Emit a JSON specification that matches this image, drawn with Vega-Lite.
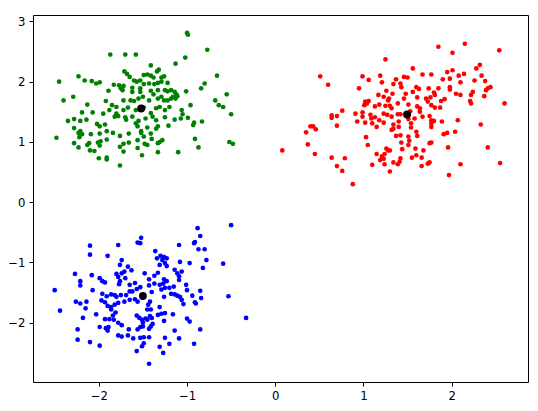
{
  "$schema": "https://vega.github.io/schema/vega-lite/v6.json",
  "width": 495,
  "height": 367,
  "autosize": {"type": "none"},
  "padding": {"left": 33, "top": 15, "right": 10, "bottom": 29},
  "background": "white",
  "config": {
    "view": {"stroke": "#000000", "strokeWidth": 1},
    "font": "DejaVu Sans",
    "axis": {
      "grid": false,
      "domain": false,
      "tickColor": "#000000",
      "tickSize": 4,
      "tickWidth": 1,
      "labelColor": "#000000",
      "labelFont": "DejaVu Sans",
      "labelFontSize": 11.7,
      "labelPadding": 4,
      "title": null
    }
  },
  "data": {
    "values": [
      {"x": -1.00, "y": 2.81, "c": "g"}, {"x": -0.99, "y": 2.78, "c": "g"}, {"x": -0.77, "y": 2.53, "c": "g"}, {"x": -1.87, "y": 2.45, "c": "g"},
      {"x": -1.70, "y": 2.45, "c": "g"}, {"x": -1.58, "y": 2.45, "c": "g"}, {"x": -1.02, "y": 2.40, "c": "g"}, {"x": -1.13, "y": 2.30, "c": "g"},
      {"x": -1.41, "y": 2.27, "c": "g"}, {"x": -1.71, "y": 2.17, "c": "g"}, {"x": -1.32, "y": 2.20, "c": "g"}, {"x": -1.34, "y": 2.17, "c": "g"},
      {"x": -2.45, "y": 2.00, "c": "g"}, {"x": -2.23, "y": 2.09, "c": "g"}, {"x": -2.16, "y": 2.02, "c": "g"}, {"x": -2.08, "y": 2.01, "c": "g"},
      {"x": -2.03, "y": 1.97, "c": "g"}, {"x": -1.99, "y": 1.99, "c": "g"}, {"x": -0.80, "y": 1.97, "c": "g"}, {"x": -0.66, "y": 2.10, "c": "g"},
      {"x": -1.68, "y": 2.13, "c": "g"}, {"x": -1.65, "y": 2.08, "c": "g"}, {"x": -1.60, "y": 2.02, "c": "g"}, {"x": -1.53, "y": 2.02, "c": "g"},
      {"x": -1.49, "y": 2.11, "c": "g"}, {"x": -1.45, "y": 2.12, "c": "g"}, {"x": -1.41, "y": 2.10, "c": "g"}, {"x": -1.38, "y": 2.07, "c": "g"},
      {"x": -1.29, "y": 2.07, "c": "g"}, {"x": -1.26, "y": 2.09, "c": "g"}, {"x": -1.83, "y": 1.95, "c": "g"}, {"x": -1.77, "y": 1.94, "c": "g"},
      {"x": -1.72, "y": 1.93, "c": "g"}, {"x": -1.73, "y": 1.86, "c": "g"}, {"x": -1.75, "y": 1.89, "c": "g"}, {"x": -1.62, "y": 1.90, "c": "g"},
      {"x": -1.57, "y": 2.00, "c": "g"}, {"x": -1.53, "y": 1.89, "c": "g"}, {"x": -1.49, "y": 1.96, "c": "g"}, {"x": -1.43, "y": 1.97, "c": "g"},
      {"x": -1.37, "y": 1.96, "c": "g"}, {"x": -1.33, "y": 1.98, "c": "g"}, {"x": -1.29, "y": 2.00, "c": "g"}, {"x": -1.22, "y": 1.98, "c": "g"},
      {"x": -1.89, "y": 1.85, "c": "g"}, {"x": -1.62, "y": 1.83, "c": "g"}, {"x": -1.53, "y": 1.83, "c": "g"}, {"x": -1.41, "y": 1.85, "c": "g"},
      {"x": -1.38, "y": 1.79, "c": "g"}, {"x": -1.33, "y": 1.86, "c": "g"}, {"x": -1.25, "y": 1.86, "c": "g"}, {"x": -1.22, "y": 1.84, "c": "g"},
      {"x": -1.18, "y": 1.86, "c": "g"}, {"x": -1.14, "y": 1.83, "c": "g"}, {"x": -1.12, "y": 1.79, "c": "g"}, {"x": -1.01, "y": 1.84, "c": "g"},
      {"x": -0.84, "y": 1.89, "c": "g"}, {"x": -2.40, "y": 1.69, "c": "g"}, {"x": -2.29, "y": 1.75, "c": "g"}, {"x": -2.13, "y": 1.62, "c": "g"},
      {"x": -1.92, "y": 1.68, "c": "g"}, {"x": -1.85, "y": 1.61, "c": "g"}, {"x": -1.80, "y": 1.58, "c": "g"}, {"x": -1.72, "y": 1.69, "c": "g"},
      {"x": -1.64, "y": 1.69, "c": "g"}, {"x": -1.60, "y": 1.68, "c": "g"}, {"x": -1.55, "y": 1.72, "c": "g"}, {"x": -1.50, "y": 1.75, "c": "g"},
      {"x": -1.43, "y": 1.69, "c": "g"}, {"x": -1.33, "y": 1.72, "c": "g"}, {"x": -1.29, "y": 1.75, "c": "g"}, {"x": -1.26, "y": 1.69, "c": "g"},
      {"x": -1.22, "y": 1.69, "c": "g"}, {"x": -1.18, "y": 1.72, "c": "g"}, {"x": -1.16, "y": 1.75, "c": "g"}, {"x": -1.13, "y": 1.72, "c": "g"},
      {"x": -1.11, "y": 1.76, "c": "g"}, {"x": -0.68, "y": 1.69, "c": "g"}, {"x": -0.64, "y": 1.61, "c": "g"}, {"x": -0.59, "y": 1.58, "c": "g"},
      {"x": -0.55, "y": 1.79, "c": "g"}, {"x": -0.50, "y": 1.46, "c": "g"}, {"x": -2.19, "y": 1.49, "c": "g"}, {"x": -2.07, "y": 1.49, "c": "g"},
      {"x": -1.95, "y": 1.47, "c": "g"}, {"x": -1.88, "y": 1.53, "c": "g"}, {"x": -1.80, "y": 1.47, "c": "g"}, {"x": -1.72, "y": 1.53, "c": "g"},
      {"x": -1.67, "y": 1.57, "c": "g"}, {"x": -1.58, "y": 1.53, "c": "g"}, {"x": -1.49, "y": 1.57, "c": "g"}, {"x": -1.41, "y": 1.48, "c": "g"},
      {"x": -1.35, "y": 1.56, "c": "g"}, {"x": -1.31, "y": 1.58, "c": "g"}, {"x": -1.25, "y": 1.53, "c": "g"}, {"x": -1.20, "y": 1.58, "c": "g"},
      {"x": -1.06, "y": 1.53, "c": "g"}, {"x": -1.05, "y": 1.46, "c": "g"}, {"x": -0.96, "y": 1.61, "c": "g"}, {"x": -2.35, "y": 1.35, "c": "g"},
      {"x": -2.28, "y": 1.38, "c": "g"}, {"x": -2.21, "y": 1.35, "c": "g"}, {"x": -2.14, "y": 1.37, "c": "g"}, {"x": -2.02, "y": 1.30, "c": "g"},
      {"x": -1.99, "y": 1.26, "c": "g"}, {"x": -1.93, "y": 1.29, "c": "g"}, {"x": -1.82, "y": 1.42, "c": "g"}, {"x": -1.78, "y": 1.43, "c": "g"},
      {"x": -1.70, "y": 1.41, "c": "g"}, {"x": -1.69, "y": 1.37, "c": "g"}, {"x": -1.62, "y": 1.42, "c": "g"}, {"x": -1.58, "y": 1.31, "c": "g"},
      {"x": -1.55, "y": 1.35, "c": "g"}, {"x": -1.47, "y": 1.39, "c": "g"}, {"x": -1.39, "y": 1.42, "c": "g"}, {"x": -1.35, "y": 1.36, "c": "g"},
      {"x": -1.25, "y": 1.41, "c": "g"}, {"x": -1.21, "y": 1.27, "c": "g"}, {"x": -1.14, "y": 1.37, "c": "g"}, {"x": -1.07, "y": 1.39, "c": "g"},
      {"x": -0.99, "y": 1.40, "c": "g"}, {"x": -0.93, "y": 1.28, "c": "g"}, {"x": -0.92, "y": 1.32, "c": "g"}, {"x": -0.83, "y": 1.34, "c": "g"},
      {"x": -2.28, "y": 1.23, "c": "g"}, {"x": -2.21, "y": 1.18, "c": "g"}, {"x": -2.19, "y": 1.13, "c": "g"}, {"x": -2.23, "y": 1.15, "c": "g"},
      {"x": -2.09, "y": 1.13, "c": "g"}, {"x": -1.99, "y": 1.14, "c": "g"}, {"x": -1.91, "y": 1.18, "c": "g"}, {"x": -1.84, "y": 1.15, "c": "g"},
      {"x": -1.76, "y": 1.10, "c": "g"}, {"x": -1.66, "y": 1.14, "c": "g"}, {"x": -1.56, "y": 1.26, "c": "g"}, {"x": -1.52, "y": 1.18, "c": "g"},
      {"x": -1.45, "y": 1.24, "c": "g"}, {"x": -1.41, "y": 1.14, "c": "g"}, {"x": -1.35, "y": 1.22, "c": "g"}, {"x": -1.33, "y": 1.26, "c": "g"},
      {"x": -2.48, "y": 1.07, "c": "g"}, {"x": -2.28, "y": 0.98, "c": "g"}, {"x": -2.22, "y": 1.08, "c": "g"}, {"x": -2.13, "y": 0.95, "c": "g"},
      {"x": -2.11, "y": 0.98, "c": "g"}, {"x": -2.01, "y": 0.99, "c": "g"}, {"x": -1.98, "y": 1.01, "c": "g"}, {"x": -1.91, "y": 1.04, "c": "g"},
      {"x": -1.72, "y": 0.97, "c": "g"}, {"x": -1.66, "y": 0.99, "c": "g"}, {"x": -1.56, "y": 1.03, "c": "g"}, {"x": -1.52, "y": 1.15, "c": "g"},
      {"x": -1.49, "y": 1.09, "c": "g"}, {"x": -1.40, "y": 1.05, "c": "g"}, {"x": -1.33, "y": 0.98, "c": "g"}, {"x": -1.31, "y": 1.00, "c": "g"},
      {"x": -1.28, "y": 1.03, "c": "g"}, {"x": -0.91, "y": 1.05, "c": "g"}, {"x": -0.52, "y": 1.00, "c": "g"}, {"x": -0.48, "y": 0.97, "c": "g"},
      {"x": -2.23, "y": 0.91, "c": "g"}, {"x": -2.10, "y": 0.86, "c": "g"}, {"x": -2.05, "y": 0.85, "c": "g"}, {"x": -1.99, "y": 0.94, "c": "g"},
      {"x": -1.76, "y": 0.92, "c": "g"}, {"x": -1.72, "y": 0.84, "c": "g"}, {"x": -1.56, "y": 0.90, "c": "g"}, {"x": -1.48, "y": 0.97, "c": "g"},
      {"x": -1.45, "y": 0.95, "c": "g"}, {"x": -1.33, "y": 0.83, "c": "g"}, {"x": -1.10, "y": 0.83, "c": "g"}, {"x": -0.87, "y": 0.91, "c": "g"},
      {"x": -2.00, "y": 0.73, "c": "g"}, {"x": -1.91, "y": 0.74, "c": "g"}, {"x": -1.91, "y": 0.71, "c": "g"}, {"x": -1.51, "y": 0.78, "c": "g"},
      {"x": -1.76, "y": 0.61, "c": "g"},

      {"x": 1.25, "y": 2.37, "c": "r"}, {"x": 0.51, "y": 2.09, "c": "r"}, {"x": 0.60, "y": 1.95, "c": "r"}, {"x": 0.99, "y": 2.09, "c": "r"},
      {"x": 1.06, "y": 2.03, "c": "r"}, {"x": 1.19, "y": 2.10, "c": "r"}, {"x": 1.21, "y": 1.99, "c": "r"}, {"x": 1.34, "y": 1.96, "c": "r"},
      {"x": 0.95, "y": 1.89, "c": "r"}, {"x": 1.17, "y": 1.78, "c": "r"}, {"x": 1.23, "y": 1.75, "c": "r"}, {"x": 1.26, "y": 1.85, "c": "r"},
      {"x": 1.29, "y": 1.72, "c": "r"}, {"x": 1.33, "y": 1.80, "c": "r"}, {"x": 1.28, "y": 1.69, "c": "r"}, {"x": 1.02, "y": 1.67, "c": "r"},
      {"x": 1.04, "y": 1.64, "c": "r"}, {"x": 1.06, "y": 1.68, "c": "r"}, {"x": 1.01, "y": 1.61, "c": "r"}, {"x": 1.13, "y": 1.59, "c": "r"},
      {"x": 1.18, "y": 1.62, "c": "r"}, {"x": 1.25, "y": 1.60, "c": "r"}, {"x": 1.30, "y": 1.60, "c": "r"}, {"x": 1.32, "y": 1.56, "c": "r"},
      {"x": 0.76, "y": 1.52, "c": "r"}, {"x": 0.64, "y": 1.44, "c": "r"}, {"x": 0.64, "y": 1.40, "c": "r"}, {"x": 0.70, "y": 1.43, "c": "r"},
      {"x": 0.91, "y": 1.47, "c": "r"}, {"x": 0.99, "y": 1.49, "c": "r"}, {"x": 0.99, "y": 1.42, "c": "r"}, {"x": 1.08, "y": 1.45, "c": "r"},
      {"x": 1.09, "y": 1.39, "c": "r"}, {"x": 1.13, "y": 1.41, "c": "r"}, {"x": 1.18, "y": 1.36, "c": "r"}, {"x": 1.23, "y": 1.47, "c": "r"},
      {"x": 1.27, "y": 1.45, "c": "r"}, {"x": 1.32, "y": 1.42, "c": "r"}, {"x": 0.93, "y": 1.34, "c": "r"}, {"x": 1.02, "y": 1.32, "c": "r"},
      {"x": 1.10, "y": 1.31, "c": "r"}, {"x": 1.15, "y": 1.25, "c": "r"}, {"x": 1.23, "y": 1.32, "c": "r"}, {"x": 1.34, "y": 1.29, "c": "r"},
      {"x": 0.70, "y": 1.27, "c": "r"}, {"x": 0.40, "y": 1.26, "c": "r"}, {"x": 0.43, "y": 1.26, "c": "r"}, {"x": 0.46, "y": 1.21, "c": "r"},
      {"x": 0.35, "y": 1.16, "c": "r"}, {"x": 1.32, "y": 1.20, "c": "r"}, {"x": 1.34, "y": 1.22, "c": "r"}, {"x": 1.03, "y": 1.08, "c": "r"},
      {"x": 0.37, "y": 0.96, "c": "r"}, {"x": 1.05, "y": 0.95, "c": "r"}, {"x": 0.08, "y": 0.86, "c": "r"}, {"x": 0.45, "y": 0.80, "c": "r"},
      {"x": 1.26, "y": 0.89, "c": "r"}, {"x": 1.28, "y": 0.86, "c": "r"}, {"x": 1.30, "y": 0.86, "c": "r"}, {"x": 1.24, "y": 0.80, "c": "r"},
      {"x": 1.15, "y": 0.80, "c": "r"}, {"x": 1.21, "y": 0.76, "c": "r"}, {"x": 1.23, "y": 0.72, "c": "r"}, {"x": 1.19, "y": 0.70, "c": "r"},
      {"x": 0.64, "y": 0.74, "c": "r"}, {"x": 0.79, "y": 0.73, "c": "r"}, {"x": 0.70, "y": 0.60, "c": "r"}, {"x": 0.76, "y": 0.52, "c": "r"},
      {"x": 1.10, "y": 0.62, "c": "r"}, {"x": 1.24, "y": 0.63, "c": "r"}, {"x": 1.34, "y": 0.66, "c": "r"}, {"x": 1.30, "y": 0.51, "c": "r"},
      {"x": 0.88, "y": 0.30, "c": "r"},
      {"x": 1.85, "y": 2.58, "c": "r"}, {"x": 2.15, "y": 2.63, "c": "r"}, {"x": 2.01, "y": 2.48, "c": "r"}, {"x": 2.54, "y": 2.52, "c": "r"},
      {"x": 2.32, "y": 2.28, "c": "r"}, {"x": 2.28, "y": 2.22, "c": "r"}, {"x": 1.56, "y": 2.22, "c": "r"}, {"x": 2.01, "y": 2.19, "c": "r"},
      {"x": 1.95, "y": 2.16, "c": "r"}, {"x": 1.67, "y": 2.12, "c": "r"}, {"x": 1.77, "y": 2.12, "c": "r"}, {"x": 2.08, "y": 2.10, "c": "r"},
      {"x": 2.14, "y": 2.13, "c": "r"}, {"x": 1.46, "y": 2.08, "c": "r"}, {"x": 1.50, "y": 2.07, "c": "r"}, {"x": 2.34, "y": 2.10, "c": "r"},
      {"x": 1.90, "y": 2.04, "c": "r"}, {"x": 1.98, "y": 2.05, "c": "r"}, {"x": 2.10, "y": 1.99, "c": "r"}, {"x": 2.26, "y": 2.02, "c": "r"},
      {"x": 2.38, "y": 2.01, "c": "r"}, {"x": 1.37, "y": 2.04, "c": "r"}, {"x": 1.42, "y": 1.97, "c": "r"}, {"x": 1.43, "y": 1.91, "c": "r"},
      {"x": 1.60, "y": 1.91, "c": "r"}, {"x": 1.63, "y": 1.88, "c": "r"}, {"x": 1.74, "y": 1.89, "c": "r"}, {"x": 1.85, "y": 1.89, "c": "r"},
      {"x": 1.98, "y": 1.91, "c": "r"}, {"x": 1.98, "y": 1.87, "c": "r"}, {"x": 1.56, "y": 1.83, "c": "r"}, {"x": 1.80, "y": 1.82, "c": "r"},
      {"x": 1.81, "y": 1.78, "c": "r"}, {"x": 1.76, "y": 1.74, "c": "r"}, {"x": 1.71, "y": 1.72, "c": "r"}, {"x": 1.92, "y": 1.71, "c": "r"},
      {"x": 1.88, "y": 1.68, "c": "r"}, {"x": 2.05, "y": 1.80, "c": "r"}, {"x": 2.10, "y": 1.78, "c": "r"}, {"x": 2.22, "y": 1.78, "c": "r"},
      {"x": 2.24, "y": 1.83, "c": "r"}, {"x": 2.21, "y": 1.68, "c": "r"}, {"x": 2.22, "y": 1.64, "c": "r"}, {"x": 2.37, "y": 1.76, "c": "r"},
      {"x": 2.41, "y": 1.89, "c": "r"}, {"x": 2.44, "y": 1.91, "c": "r"}, {"x": 2.39, "y": 1.86, "c": "r"}, {"x": 1.48, "y": 1.80, "c": "r"},
      {"x": 1.61, "y": 1.74, "c": "r"}, {"x": 1.46, "y": 1.72, "c": "r"}, {"x": 1.51, "y": 1.62, "c": "r"}, {"x": 1.39, "y": 1.64, "c": "r"},
      {"x": 1.73, "y": 1.67, "c": "r"}, {"x": 1.77, "y": 1.61, "c": "r"}, {"x": 1.81, "y": 1.57, "c": "r"}, {"x": 1.87, "y": 1.57, "c": "r"},
      {"x": 1.61, "y": 1.59, "c": "r"}, {"x": 1.64, "y": 1.56, "c": "r"}, {"x": 2.60, "y": 1.64, "c": "r"}, {"x": 1.39, "y": 1.46, "c": "r"},
      {"x": 1.42, "y": 1.46, "c": "r"}, {"x": 1.53, "y": 1.51, "c": "r"}, {"x": 1.64, "y": 1.50, "c": "r"}, {"x": 1.67, "y": 1.42, "c": "r"},
      {"x": 1.58, "y": 1.39, "c": "r"}, {"x": 1.75, "y": 1.43, "c": "r"}, {"x": 1.77, "y": 1.36, "c": "r"}, {"x": 1.80, "y": 1.35, "c": "r"},
      {"x": 1.89, "y": 1.34, "c": "r"}, {"x": 2.07, "y": 1.36, "c": "r"}, {"x": 2.33, "y": 1.29, "c": "r"}, {"x": 1.54, "y": 1.31, "c": "r"},
      {"x": 1.40, "y": 1.34, "c": "r"}, {"x": 1.51, "y": 1.38, "c": "r"}, {"x": 1.40, "y": 1.25, "c": "r"}, {"x": 1.54, "y": 1.24, "c": "r"},
      {"x": 1.60, "y": 1.17, "c": "r"}, {"x": 1.61, "y": 1.10, "c": "r"}, {"x": 1.77, "y": 1.31, "c": "r"}, {"x": 1.77, "y": 1.25, "c": "r"},
      {"x": 2.04, "y": 1.17, "c": "r"}, {"x": 1.95, "y": 1.15, "c": "r"}, {"x": 1.91, "y": 1.13, "c": "r"}, {"x": 1.42, "y": 1.11, "c": "r"},
      {"x": 1.37, "y": 1.10, "c": "r"}, {"x": 1.51, "y": 1.09, "c": "r"}, {"x": 1.77, "y": 0.99, "c": "r"}, {"x": 1.75, "y": 0.98, "c": "r"},
      {"x": 1.43, "y": 0.99, "c": "r"}, {"x": 1.52, "y": 1.02, "c": "r"}, {"x": 1.51, "y": 0.95, "c": "r"}, {"x": 1.44, "y": 0.88, "c": "r"},
      {"x": 1.59, "y": 0.89, "c": "r"}, {"x": 1.68, "y": 0.86, "c": "r"}, {"x": 1.96, "y": 0.91, "c": "r"}, {"x": 2.41, "y": 0.91, "c": "r"},
      {"x": 1.42, "y": 0.73, "c": "r"}, {"x": 1.41, "y": 0.67, "c": "r"}, {"x": 1.39, "y": 0.63, "c": "r"}, {"x": 1.55, "y": 0.74, "c": "r"},
      {"x": 1.60, "y": 0.78, "c": "r"}, {"x": 1.66, "y": 0.74, "c": "r"}, {"x": 1.75, "y": 0.66, "c": "r"}, {"x": 1.73, "y": 0.64, "c": "r"},
      {"x": 1.66, "y": 0.60, "c": "r"}, {"x": 2.10, "y": 0.63, "c": "r"}, {"x": 2.55, "y": 0.65, "c": "r"}, {"x": 1.97, "y": 0.45, "c": "r"},

      {"x": -1.52, "y": -0.59, "c": "b"}, {"x": -1.56, "y": -0.67, "c": "b"}, {"x": -1.53, "y": -0.68, "c": "b"}, {"x": -2.10, "y": -0.72, "c": "b"},
      {"x": -1.78, "y": -0.71, "c": "b"}, {"x": -2.10, "y": -0.87, "c": "b"}, {"x": -1.90, "y": -0.89, "c": "b"}, {"x": -1.74, "y": -0.96, "c": "b"},
      {"x": -1.76, "y": -1.04, "c": "b"}, {"x": -1.67, "y": -1.07, "c": "b"}, {"x": -1.63, "y": -1.13, "c": "b"}, {"x": -1.71, "y": -1.15, "c": "b"},
      {"x": -1.74, "y": -1.18, "c": "b"}, {"x": -1.80, "y": -1.19, "c": "b"}, {"x": -1.78, "y": -1.24, "c": "b"}, {"x": -2.27, "y": -1.19, "c": "b"},
      {"x": -2.08, "y": -1.21, "c": "b"}, {"x": -1.99, "y": -1.26, "c": "b"}, {"x": -1.93, "y": -1.33, "c": "b"}, {"x": -1.96, "y": -1.31, "c": "b"},
      {"x": -2.21, "y": -1.31, "c": "b"}, {"x": -2.21, "y": -1.38, "c": "b"}, {"x": -2.50, "y": -1.46, "c": "b"}, {"x": -2.07, "y": -1.46, "c": "b"},
      {"x": -1.76, "y": -1.31, "c": "b"}, {"x": -1.77, "y": -1.36, "c": "b"}, {"x": -1.70, "y": -1.26, "c": "b"}, {"x": -1.65, "y": -1.37, "c": "b"},
      {"x": -1.59, "y": -1.34, "c": "b"}, {"x": -1.62, "y": -1.48, "c": "b"}, {"x": -1.57, "y": -1.44, "c": "b"}, {"x": -1.53, "y": -1.41, "c": "b"},
      {"x": -1.96, "y": -1.52, "c": "b"}, {"x": -1.91, "y": -1.56, "c": "b"}, {"x": -1.86, "y": -1.53, "c": "b"}, {"x": -1.82, "y": -1.54, "c": "b"},
      {"x": -1.80, "y": -1.57, "c": "b"}, {"x": -1.75, "y": -1.54, "c": "b"}, {"x": -1.69, "y": -1.54, "c": "b"}, {"x": -1.65, "y": -1.48, "c": "b"},
      {"x": -2.26, "y": -1.65, "c": "b"}, {"x": -2.21, "y": -1.68, "c": "b"}, {"x": -2.14, "y": -1.65, "c": "b"}, {"x": -2.15, "y": -1.76, "c": "b"},
      {"x": -1.97, "y": -1.63, "c": "b"}, {"x": -1.93, "y": -1.66, "c": "b"}, {"x": -1.90, "y": -1.72, "c": "b"}, {"x": -1.86, "y": -1.74, "c": "b"},
      {"x": -1.82, "y": -1.70, "c": "b"}, {"x": -1.78, "y": -1.67, "c": "b"}, {"x": -1.71, "y": -1.65, "c": "b"}, {"x": -1.65, "y": -1.62, "c": "b"},
      {"x": -1.59, "y": -1.61, "c": "b"}, {"x": -1.56, "y": -1.65, "c": "b"}, {"x": -2.44, "y": -1.80, "c": "b"}, {"x": -2.03, "y": -1.86, "c": "b"},
      {"x": -1.86, "y": -1.78, "c": "b"}, {"x": -1.81, "y": -1.83, "c": "b"}, {"x": -1.84, "y": -1.88, "c": "b"}, {"x": -2.18, "y": -1.92, "c": "b"},
      {"x": -1.93, "y": -1.94, "c": "b"}, {"x": -1.88, "y": -1.94, "c": "b"}, {"x": -1.83, "y": -1.95, "c": "b"}, {"x": -1.78, "y": -2.00, "c": "b"},
      {"x": -1.74, "y": -2.04, "c": "b"}, {"x": -1.57, "y": -1.88, "c": "b"}, {"x": -1.54, "y": -1.92, "c": "b"}, {"x": -1.51, "y": -1.95, "c": "b"},
      {"x": -1.50, "y": -2.00, "c": "b"}, {"x": -2.24, "y": -2.11, "c": "b"}, {"x": -1.99, "y": -2.07, "c": "b"}, {"x": -1.92, "y": -2.09, "c": "b"},
      {"x": -1.89, "y": -2.07, "c": "b"}, {"x": -1.90, "y": -2.13, "c": "b"}, {"x": -1.66, "y": -2.11, "c": "b"}, {"x": -1.56, "y": -2.11, "c": "b"},
      {"x": -1.53, "y": -2.07, "c": "b"}, {"x": -1.50, "y": -2.06, "c": "b"}, {"x": -2.24, "y": -2.28, "c": "b"}, {"x": -2.10, "y": -2.32, "c": "b"},
      {"x": -1.99, "y": -2.38, "c": "b"}, {"x": -1.78, "y": -2.21, "c": "b"}, {"x": -1.74, "y": -2.23, "c": "b"}, {"x": -1.67, "y": -2.21, "c": "b"},
      {"x": -1.61, "y": -2.26, "c": "b"}, {"x": -1.53, "y": -2.25, "c": "b"}, {"x": -1.49, "y": -2.24, "c": "b"}, {"x": -1.49, "y": -2.34, "c": "b"},
      {"x": -1.51, "y": -2.39, "c": "b"}, {"x": -1.57, "y": -2.47, "c": "b"},
      {"x": -0.88, "y": -0.43, "c": "b"}, {"x": -0.50, "y": -0.38, "c": "b"}, {"x": -0.85, "y": -0.56, "c": "b"}, {"x": -0.91, "y": -0.66, "c": "b"},
      {"x": -0.92, "y": -0.68, "c": "b"}, {"x": -1.09, "y": -0.71, "c": "b"}, {"x": -0.87, "y": -0.78, "c": "b"}, {"x": -0.80, "y": -0.78, "c": "b"},
      {"x": -1.36, "y": -0.81, "c": "b"}, {"x": -1.30, "y": -0.89, "c": "b"}, {"x": -1.26, "y": -0.91, "c": "b"}, {"x": -1.23, "y": -0.93, "c": "b"},
      {"x": -1.34, "y": -0.93, "c": "b"}, {"x": -1.28, "y": -0.96, "c": "b"}, {"x": -1.25, "y": -1.01, "c": "b"}, {"x": -1.31, "y": -1.04, "c": "b"},
      {"x": -1.23, "y": -1.06, "c": "b"}, {"x": -1.08, "y": -0.99, "c": "b"}, {"x": -0.97, "y": -1.01, "c": "b"}, {"x": -0.78, "y": -0.96, "c": "b"},
      {"x": -0.82, "y": -1.09, "c": "b"}, {"x": -0.59, "y": -1.02, "c": "b"}, {"x": -1.48, "y": -1.18, "c": "b"}, {"x": -1.33, "y": -1.17, "c": "b"},
      {"x": -1.37, "y": -1.22, "c": "b"}, {"x": -1.43, "y": -1.28, "c": "b"}, {"x": -1.26, "y": -1.28, "c": "b"}, {"x": -1.23, "y": -1.31, "c": "b"},
      {"x": -1.27, "y": -1.35, "c": "b"}, {"x": -1.31, "y": -1.37, "c": "b"}, {"x": -1.37, "y": -1.35, "c": "b"}, {"x": -1.43, "y": -1.38, "c": "b"},
      {"x": -1.14, "y": -1.12, "c": "b"}, {"x": -1.11, "y": -1.18, "c": "b"}, {"x": -1.06, "y": -1.15, "c": "b"}, {"x": -1.09, "y": -1.23, "c": "b"},
      {"x": -1.09, "y": -1.29, "c": "b"}, {"x": -1.01, "y": -1.37, "c": "b"}, {"x": -1.15, "y": -1.40, "c": "b"}, {"x": -1.20, "y": -1.42, "c": "b"},
      {"x": -1.25, "y": -1.42, "c": "b"}, {"x": -1.29, "y": -1.45, "c": "b"}, {"x": -1.40, "y": -1.49, "c": "b"}, {"x": -1.18, "y": -1.52, "c": "b"},
      {"x": -1.14, "y": -1.53, "c": "b"}, {"x": -1.11, "y": -1.55, "c": "b"}, {"x": -1.08, "y": -1.57, "c": "b"}, {"x": -1.06, "y": -1.62, "c": "b"},
      {"x": -1.00, "y": -1.46, "c": "b"}, {"x": -0.94, "y": -1.55, "c": "b"}, {"x": -0.85, "y": -1.47, "c": "b"}, {"x": -0.84, "y": -1.59, "c": "b"},
      {"x": -1.26, "y": -1.57, "c": "b"}, {"x": -0.91, "y": -1.66, "c": "b"}, {"x": -0.90, "y": -1.68, "c": "b"}, {"x": -1.04, "y": -1.69, "c": "b"},
      {"x": -0.53, "y": -1.56, "c": "b"}, {"x": -1.42, "y": -1.65, "c": "b"}, {"x": -1.44, "y": -1.70, "c": "b"}, {"x": -1.31, "y": -1.74, "c": "b"},
      {"x": -1.41, "y": -1.78, "c": "b"}, {"x": -1.45, "y": -1.78, "c": "b"}, {"x": -1.33, "y": -1.87, "c": "b"}, {"x": -1.29, "y": -1.85, "c": "b"},
      {"x": -1.25, "y": -1.84, "c": "b"}, {"x": -1.16, "y": -1.86, "c": "b"}, {"x": -1.00, "y": -1.93, "c": "b"}, {"x": -0.97, "y": -1.98, "c": "b"},
      {"x": -1.47, "y": -1.93, "c": "b"}, {"x": -1.42, "y": -1.89, "c": "b"}, {"x": -1.40, "y": -1.92, "c": "b"}, {"x": -1.45, "y": -1.95, "c": "b"},
      {"x": -1.26, "y": -1.97, "c": "b"}, {"x": -1.39, "y": -2.02, "c": "b"}, {"x": -1.41, "y": -2.06, "c": "b"}, {"x": -1.43, "y": -2.10, "c": "b"},
      {"x": -0.85, "y": -2.11, "c": "b"}, {"x": -1.14, "y": -2.13, "c": "b"}, {"x": -1.25, "y": -2.25, "c": "b"}, {"x": -1.09, "y": -2.26, "c": "b"},
      {"x": -1.43, "y": -2.24, "c": "b"}, {"x": -1.31, "y": -2.40, "c": "b"}, {"x": -1.20, "y": -2.35, "c": "b"}, {"x": -0.92, "y": -2.35, "c": "b"},
      {"x": -1.27, "y": -2.50, "c": "b"}, {"x": -1.43, "y": -2.68, "c": "b"}, {"x": -0.33, "y": -1.92, "c": "b"},

      {"x": -1.52, "y": 1.556, "c": "k"}, {"x": 1.495, "y": 1.456, "c": "k"}, {"x": -1.50, "y": -1.555, "c": "k"}
    ]
  },
  "layer": [
    {
      "transform": [{"filter": "datum.c !== 'k'"}],
      "mark": {"type": "circle", "size": 22, "opacity": 1},
      "encoding": {
        "x": {"field": "x", "type": "quantitative", "scale": {"domain": [-2.746, 2.866], "nice": false, "zero": false}, "axis": {"values": [-2, -1, 0, 1, 2], "format": "d"}},
        "y": {"field": "y", "type": "quantitative", "scale": {"domain": [-2.983, 3.107], "nice": false, "zero": false}, "axis": {"values": [-2, -1, 0, 1, 2, 3], "format": "d"}},
        "color": {"field": "c", "type": "nominal", "scale": {"domain": ["g", "r", "b"], "range": ["#008000", "#ff0000", "#0000ff"]}, "legend": null}
      }
    },
    {
      "transform": [{"filter": "datum.c === 'k'"}],
      "mark": {"type": "circle", "size": 62, "opacity": 1, "color": "#000000"},
      "encoding": {
        "x": {"field": "x", "type": "quantitative"},
        "y": {"field": "y", "type": "quantitative"}
      }
    }
  ]
}
